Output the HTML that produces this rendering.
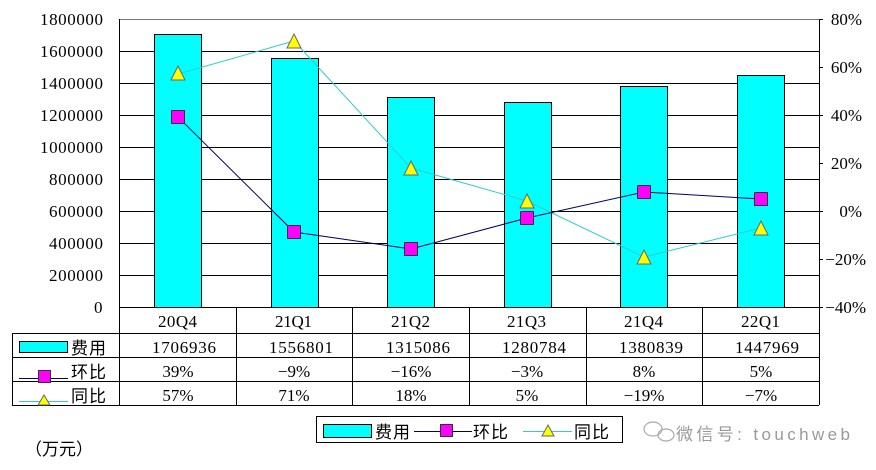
<!DOCTYPE html>
<html><head><meta charset="utf-8"><style>
body{margin:0;background:#fff}
svg{display:block}
text{font-family:"Liberation Serif","Noto Serif CJK SC",serif;font-size:17px;fill:#000}
.c{font-family:"Liberation Serif","Noto Sans CJK SC",serif}
</style></head><body>
<svg width="876" height="470" viewBox="0 0 876 470" xmlns="http://www.w3.org/2000/svg">
<rect width="876" height="470" fill="#fff"/>
<g stroke="#000" stroke-width="1">
<line x1="119" y1="19.5" x2="819" y2="19.5" stroke="#777"/>
<line x1="119" y1="51.5" x2="819" y2="51.5"/>
<line x1="119" y1="83.5" x2="819" y2="83.5"/>
<line x1="119" y1="115.5" x2="819" y2="115.5"/>
<line x1="119" y1="147.5" x2="819" y2="147.5"/>
<line x1="119" y1="179.5" x2="819" y2="179.5"/>
<line x1="119" y1="211.5" x2="819" y2="211.5"/>
<line x1="119" y1="243.5" x2="819" y2="243.5"/>
<line x1="119" y1="275.5" x2="819" y2="275.5"/>
<line x1="119.5" y1="19" x2="119.5" y2="307"/>
<line x1="819.5" y1="19" x2="819.5" y2="307"/>
<line x1="819" y1="19.5" x2="823" y2="19.5"/><line x1="819" y1="67.5" x2="823" y2="67.5"/>
<line x1="819" y1="115.5" x2="823" y2="115.5"/><line x1="819" y1="163.5" x2="823" y2="163.5"/>
<line x1="819" y1="211.5" x2="823" y2="211.5"/><line x1="819" y1="259.5" x2="823" y2="259.5"/>
<line x1="819" y1="307.5" x2="823" y2="307.5"/>
</g>
<g fill="#00ffff" stroke="#000" stroke-width="1">
<rect x="154.5" y="34.5" width="47" height="273"/>
<rect x="271.5" y="58.5" width="47" height="249"/>
<rect x="387.5" y="97.5" width="47" height="210"/>
<rect x="504.5" y="102.5" width="47" height="205"/>
<rect x="620.5" y="86.5" width="47" height="221"/>
<rect x="737.5" y="75.5" width="47" height="232"/>
</g>
<polyline points="178,74 294,41 411,168 527,201 644,257 761,228" fill="none" stroke="#33cccc" stroke-width="1"/>
<polyline points="178,117 294,232 411,249 527,218 644,192 761,199" fill="none" stroke="#000066" stroke-width="1"/>
<g fill="#ff00ff" stroke="#333" stroke-width="1">
<rect x="171.5" y="110.5" width="13" height="13"/>
<rect x="287.5" y="225.5" width="13" height="13"/>
<rect x="404.5" y="242.5" width="13" height="13"/>
<rect x="520.5" y="211.5" width="13" height="13"/>
<rect x="637.5" y="185.5" width="13" height="13"/>
<rect x="754.5" y="192.5" width="13" height="13"/>
</g>
<g fill="#ffff00" stroke="#666" stroke-width="1">
<polygon points="178,66 185,80 171,80"/>
<polygon points="294,34 301,48 287,48"/>
<polygon points="411,161 418,175 404,175"/>
<polygon points="527,194 534,208 520,208"/>
<polygon points="644,250 651,264 637,264"/>
<polygon points="761,221 768,235 754,235"/>
</g>
<g>
<text x="40" y="25" textLength="63">1800000</text><text x="40" y="57" textLength="63">1600000</text>
<text x="40" y="89" textLength="63">1400000</text><text x="40" y="121" textLength="63">1200000</text>
<text x="40" y="153" textLength="63">1000000</text><text x="49" y="185" textLength="54">800000</text>
<text x="49" y="217" textLength="54">600000</text><text x="49" y="249" textLength="54">400000</text>
<text x="49" y="281" textLength="54">200000</text><text x="94" y="313" textLength="9">0</text>
</g>
<g text-anchor="end">
<text x="862" y="25">80%</text><text x="862" y="73">60%</text>
<text x="862" y="121">40%</text><text x="862" y="169">20%</text>
<text x="862" y="217">0%</text><text x="866" y="265">−20%</text>
<text x="866" y="313">−40%</text>
</g>
<g stroke="#000" stroke-width="1" fill="none">
<line x1="119" y1="307.5" x2="819" y2="307.5"/>
<line x1="12" y1="333.5" x2="819" y2="333.5"/>
<line x1="12" y1="357.5" x2="819" y2="357.5"/>
<line x1="12" y1="381.5" x2="819" y2="381.5"/>
<line x1="12" y1="405.5" x2="819" y2="405.5"/>
<line x1="12.5" y1="333" x2="12.5" y2="405"/>
<line x1="119.5" y1="307" x2="119.5" y2="405"/>
<line x1="236.5" y1="307" x2="236.5" y2="405"/>
<line x1="352.5" y1="307" x2="352.5" y2="405"/>
<line x1="469.5" y1="307" x2="469.5" y2="405"/>
<line x1="586.5" y1="307" x2="586.5" y2="405"/>
<line x1="702.5" y1="307" x2="702.5" y2="405"/>
<line x1="819.5" y1="307" x2="819.5" y2="405"/>
</g>
<g>
<text x="158" y="327" textLength="39">20Q4</text><text x="275" y="327" textLength="37">21Q1</text><text x="391" y="327" textLength="39">21Q2</text>
<text x="507" y="327" textLength="39">21Q3</text><text x="624" y="327" textLength="39">21Q4</text><text x="741" y="327" textLength="39">22Q1</text>
<text x="152" y="353" textLength="64">1706936</text><text x="269" y="353" textLength="64">1556801</text><text x="386" y="353" textLength="64">1315086</text>
<text x="502" y="353" textLength="64">1280784</text><text x="619" y="353" textLength="64">1380839</text><text x="735" y="353" textLength="64">1447969</text>
</g>
<g text-anchor="middle">
<text x="178" y="377">39%</text><text x="294" y="377">−9%</text><text x="411" y="377">−16%</text>
<text x="527" y="377">−3%</text><text x="644" y="377">8%</text><text x="761" y="377">5%</text>
<text x="178" y="401">57%</text><text x="294" y="401">71%</text><text x="411" y="401">18%</text>
<text x="527" y="401">5%</text><text x="644" y="401">−19%</text><text x="761" y="401">−7%</text>
</g>
<rect x="19.5" y="341.5" width="48" height="11" fill="#00ffff" stroke="#000"/>
<text x="71" y="354" class="c" font-size="18" textLength="35">费用</text>
<line x1="19" y1="378.5" x2="68" y2="378.5" stroke="#000066"/>
<rect x="38.5" y="370.5" width="12" height="12" fill="#ff00ff" stroke="#333"/>
<text x="71" y="378" class="c" font-size="18" textLength="35">环比</text>
<line x1="19" y1="401.5" x2="68" y2="401.5" stroke="#33cccc"/>
<polygon points="44,395 50,405 38,405" fill="#ffff00" stroke="#666"/>
<text x="71" y="402" class="c" font-size="18" textLength="35">同比</text>
<rect x="316.5" y="416.5" width="306" height="26" fill="#fff" stroke="#000"/>
<rect x="323.5" y="424.5" width="48" height="13" fill="#00ffff" stroke="#000"/>
<text x="375" y="438" class="c" font-size="18" textLength="35">费用</text>
<line x1="414" y1="431.5" x2="448" y2="431.5" stroke="#000066"/>
<rect x="440.5" y="424.5" width="12" height="12" fill="#ff00ff" stroke="#333"/>
<line x1="452" y1="431.5" x2="472" y2="431.5" stroke="#000066"/>
<text x="473" y="438" class="c" font-size="18" textLength="35">环比</text>
<line x1="523" y1="431.5" x2="572" y2="431.5" stroke="#33cccc"/>
<polygon points="548,425 554,436 542,436" fill="#ffff00" stroke="#666"/>
<text x="574" y="438" class="c" font-size="18" textLength="35">同比</text>
<g fill="none" stroke="#aaa" stroke-width="1.2">
<ellipse cx="653" cy="429" rx="9" ry="7"/>
<ellipse cx="666" cy="435" rx="8" ry="6"/>
</g>
<text x="676" y="440" font-size="20" textLength="174" style="fill:#999;font-family:'Liberation Sans','Noto Sans CJK SC',sans-serif">微信号: touchweb</text>
<text x="25" y="455" class="c" font-size="16">（万元）</text>
</svg>
</body></html>
